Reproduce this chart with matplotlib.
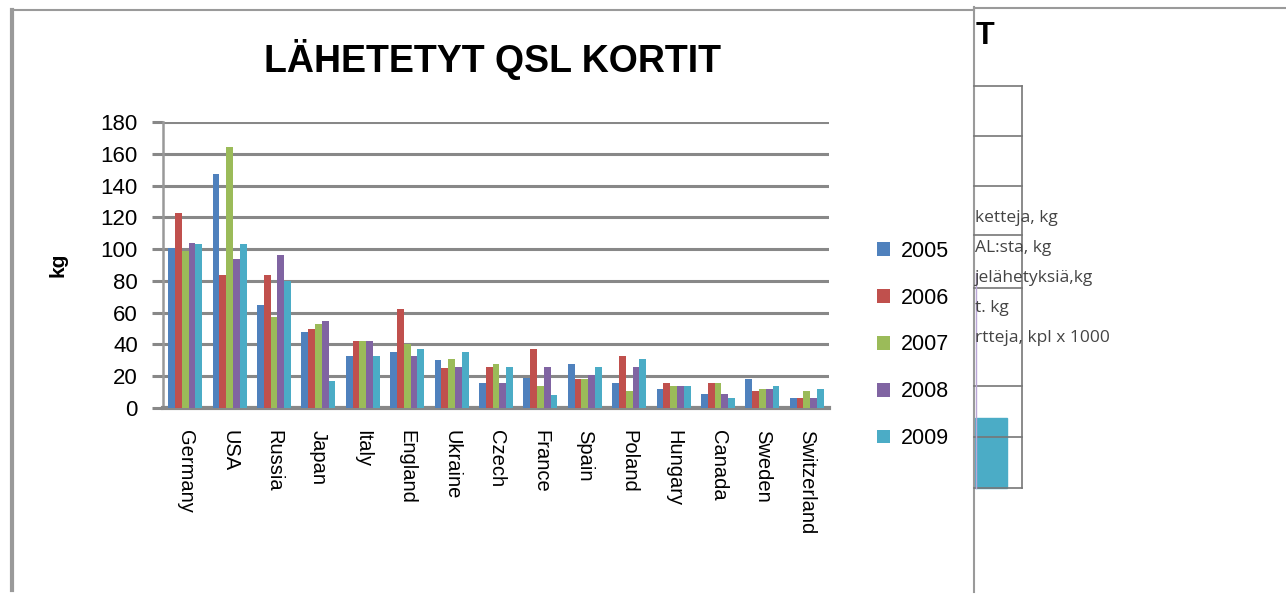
import matplotlib.pyplot as plt
import numpy as np
from matplotlib.lines import Line2D
from matplotlib.patches import Rectangle

plt.rcParams['font.family'] = ['Liberation Sans', 'DejaVu Sans']

# data (kg)
countries = ['Germany', 'USA', 'Russia', 'Japan', 'Italy', 'England', 'Ukraine',
             'Czech', 'France', 'Spain', 'Poland', 'Hungary', 'Canada', 'Sweden',
             'Switzerland']
years = ['2005', '2006', '2007', '2008', '2009']
v2005 = [101, 147, 65, 48, 33, 35, 30, 16, 19, 28, 16, 12, 9, 18, 6]
v2006 = [123, 84, 84, 50, 42, 62, 25, 26, 37, 18, 33, 16, 16, 11, 6]
v2007 = [99, 164, 57, 53, 42, 40, 31, 28, 14, 18, 11, 14, 16, 12, 11]
v2008 = [104, 94, 96, 55, 42, 33, 26, 16, 26, 21, 26, 14, 9, 12, 6]
v2009 = [103, 103, 80, 17, 33, 37, 35, 26, 8, 26, 31, 14, 6, 14, 12]
series = [v2005, v2006, v2007, v2008, v2009]
colors = ['#4F81BD', '#C0504D', '#9BBB59', '#8064A2', '#4BACC6']

# fragments of the second chart that sits behind on the right
side_texts = ['ketteja, kg', 'AL:sta, kg', 'jelähetyksiä,kg', 't. kg',
              'rtteja, kpl x 1000']

W, H = 1286, 601
fig = plt.figure(figsize=(W / 100, H / 100), dpi=100)

# full-figure layer for frame lines and the clipped chart behind
bg = fig.add_axes([0, 0, 1, 1])
bg.set_xlim(0, W)
bg.set_ylim(H, 0)
bg.axis('off')
frame = '#9a9a9a'
bg.add_line(Line2D([12, 12], [10, 590], color=frame, lw=3))
bg.add_line(Line2D([12, 974], [9.5, 9.5], color=frame, lw=1.5))
bg.add_line(Line2D([974, W], [7.5, 7.5], color=frame, lw=1.5))
bg.add_line(Line2D([974, 974], [7, 592], color=frame, lw=1.5))
bg.add_line(Line2D([1022, 1022], [86, 488], color='#777777', lw=1.2))
for yy in [86, 136, 186, 235, 288, 386, 437, 488]:
    bg.add_line(Line2D([974, 1022], [yy, yy], color='#777777', lw=1.2))
bg.add_patch(Rectangle((975, 418), 32, 70, color=colors[4]))
bg.add_line(Line2D([975.5, 975.5], [273, 488], color='#b9a6d6', lw=1))
bg.text(976, 36, 'T', fontsize=22, fontweight='bold', va='center', ha='left')
for i, t in enumerate(side_texts):
    bg.text(975, 218 + i * 30, t, fontsize=12.5, color='#444444', va='center',
            ha='left', family=['Open Sans', 'DejaVu Sans'])

# main chart
ax = fig.add_axes([163 / W, 1 - 408 / H, (829 - 163) / W, (408 - 122) / H])
x = np.arange(len(countries))
bw = 0.153
handles = []
for i, (vals, c) in enumerate(zip(series, colors)):
    b = ax.bar(x + (i - 2) * bw, vals, bw, color=c, zorder=3, label=years[i])
    handles.append(b)

ax.set_xlim(-0.5, len(countries) - 0.5)
ax.set_ylim(0, 180)
ax.set_yticks(np.arange(0, 181, 20))
ax.yaxis.grid(True, color='#888888', lw=2.2, zorder=0)
ax.set_axisbelow(True)
for s in ['top', 'right']:
    ax.spines[s].set_visible(False)
ax.spines['left'].set_color('#999999')
ax.spines['left'].set_linewidth(1.8)
ax.spines['bottom'].set_color('#888888')
ax.spines['bottom'].set_linewidth(3)
ax.tick_params(axis='y', length=8, width=2.2, color='#888888', labelsize=16,
               pad=10)
ax.tick_params(axis='x', length=0, labelsize=14.5, pad=16)
ax.set_xticks(x)
ax.set_xticklabels(countries, rotation=-90)
ax.set_ylabel('kg', fontsize=15, fontweight='bold', labelpad=24)

fig.text(492 / W, 1 - 60 / H, 'LÄHETETYT QSL KORTIT', fontsize=27,
         fontweight='bold', ha='center', va='center')

fig.legend(handles=handles, loc='upper left',
           bbox_to_anchor=(866 / W, 1 - 230 / H), frameon=False,
           fontsize=15.5, handlelength=0.6, handleheight=0.6,
           handletextpad=0.5, labelspacing=1.2, borderpad=0)

fig.savefig('out.png', dpi=100, facecolor='white')
